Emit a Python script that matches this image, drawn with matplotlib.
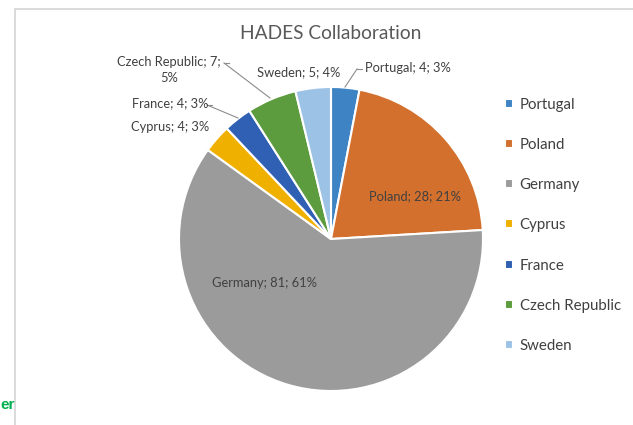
import matplotlib
matplotlib.use("Agg")
import matplotlib.pyplot as plt
from matplotlib.patches import Rectangle

plt.rcParams['font.family'] = ['Lato', 'DejaVu Sans']

# 数据
countries = ["Portugal", "Poland", "Germany", "Cyprus", "France", "Czech Republic", "Sweden"]
members = [4, 28, 81, 4, 4, 7, 5]
colors = ['#3e84c4', '#d3702e', '#9b9b9b', '#efb000', '#3060b4', '#5c9c3e', '#9cc3e6']

total = sum(members)
pcts = [round(v * 100 / total) for v in members]
labels = [f"{c}; {v}; {p}%" for c, v, p in zip(countries, members, pcts)]

W, H = 633, 425
fig = plt.figure(figsize=(W / 100, H / 100), dpi=100)
# 整张图用像素坐标 (y 向上)
ax = fig.add_axes([0, 0, 1, 1])

wedges, _ = ax.pie(members, colors=colors, startangle=90, counterclock=False,
                   center=(331, H - 239), radius=152,
                   wedgeprops=dict(edgecolor='white', linewidth=1.5))
ax.set_aspect('auto')
ax.set_xlim(0, W)
ax.set_ylim(0, H)
ax.axis('off')

# 图表外框
ax.add_patch(Rectangle((14.5, -10), 700, H - 8.5 + 10, fill=False,
                       edgecolor='#d4d4d4', linewidth=1.2))

txt_color = '#404040'
ax.text(331, H - 33, "HADES Collaboration", ha='center', va='center',
        fontsize=13.8, color='#595959')

# 数据标签 (像素位置)
label_pos = {
    "Portugal": (408, 68),
    "Poland": (415, 196),
    "Germany": (265, 283),
    "Cyprus": (170, 127),
    "France": (170, 103),
    "Czech Republic": (169, 70),
    "Sweden": (299, 72),
}
for c, lab in zip(countries, labels):
    x, y = label_pos[c]
    if c == "Czech Republic":
        lab = lab.replace("7; ", "7;\n")
    ax.text(x, H - y, lab, ha='center', va='center', fontsize=9.3,
            color=txt_color, linespacing=1.4)

# 引导线
leaders = [
    [(229, 63), (224, 63), (270, 98)],
    [(212, 105), (207, 105), (238, 118)],
    [(362, 69), (357, 69), (345, 87)],
]
for pts in leaders:
    xs = [p[0] for p in pts]
    ys = [H - p[1] for p in pts]
    ax.plot(xs[1:], ys[1:], color='#8c8c8c', lw=0.8)
    ax.plot(xs[:2], ys[:2], color='#8c8c8c', lw=0.8)

# 图例
leg = ax.legend(wedges, countries, loc='upper left',
                bbox_to_anchor=(491 / W, 1 - 84 / H), frameon=False,
                fontsize=10.8, handlelength=0.55, handleheight=0.55,
                handletextpad=0.45, labelspacing=1.75, labelcolor=txt_color)

# 左下角残留文字
ax.text(0.5, H - 405, "er", ha='left', va='center', fontsize=11,
        fontweight='bold', color='#00b050', family=['Liberation Sans'])

fig.savefig("out.png", dpi=100)
